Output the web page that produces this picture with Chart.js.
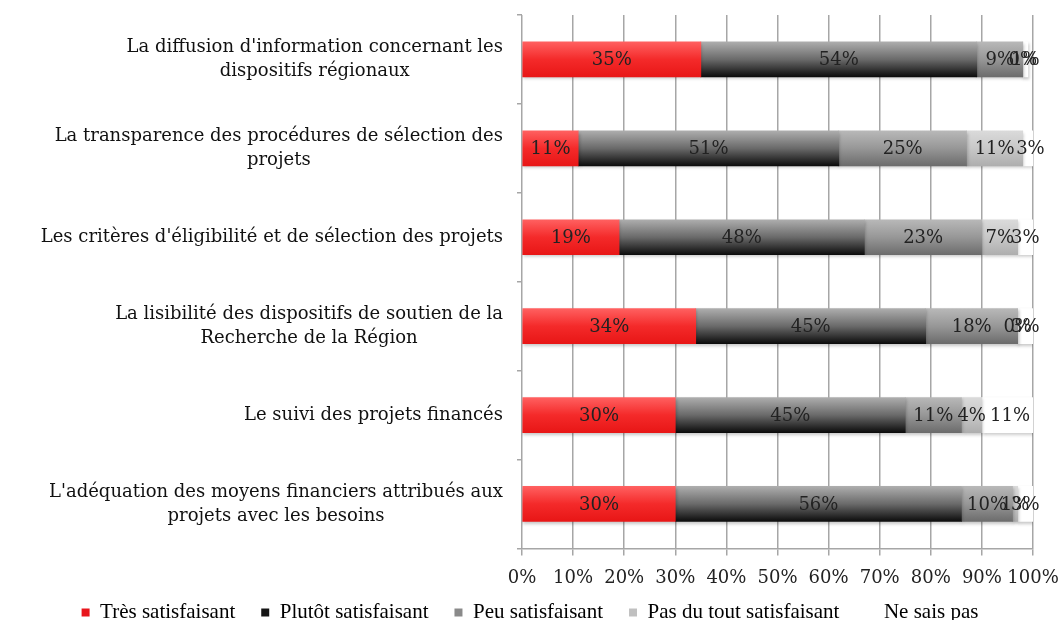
<!DOCTYPE html>
<html>
<head>
<meta charset="utf-8">
<script src="https://cdn.jsdelivr.net/npm/chart.js@4/dist/chart.umd.min.js"></script>
<style>
  html, body { margin: 0; padding: 0; background: #fff; }
  #wrap { width: 1060px; height: 624px; }
</style>
</head>
<body>
<div id="wrap"><canvas id="satisfactionChart" width="1060" height="624"></canvas></div>
<script>
const categories = [
    ["La diffusion d'information concernant les", "dispositifs régionaux"],
    ["La transparence des procédures de sélection des", "projets"],
    ["Les critères d'éligibilité et de sélection des projets"],
    ["La lisibilité des dispositifs de soutien de la", "Recherche de la Région"],
    ["Le suivi des projets financés"],
    ["L'adéquation des moyens financiers attribués aux", "projets avec les besoins"]
];
const seriesNames = ['Très satisfaisant', 'Plutôt satisfaisant', 'Peu satisfaisant', 'Pas du tout satisfaisant', 'Ne sais pas'];
const tresSatisfaisant = [35, 11, 19, 34, 30, 30];
const plutotSatisfaisant = [54, 51, 48, 45, 45, 56];
const peuSatisfaisant = [9, 25, 23, 18, 11, 10];
const pasDuToutSatisfaisant = [0, 11, 7, 0, 4, 1];
const neSaisPas = [1, 3, 3, 3, 11, 3];
const xTicks = [0, 10, 20, 30, 40, 50, 60, 70, 80, 90, 100];

const BAR_H = 35;
const SERIF = "'DejaVu Serif', Georgia, serif";

// top -> bottom colour stops of each series
const gradients = [
    ['#ff6060', '#f42a2a', '#e81616'],
    ['#adadad', '#6a6a6a', '#0c0c0c'],
    ['#b8b8b8', '#979797', '#6c6c6c'],
    ['#dadada', '#c8c8c8', '#aeaeae'],
    ['#ffffff', '#ffffff', '#ffffff']
];
const legendColors = ['#e8161c', '#151515', '#8a8a8a', '#c0c0c0', '#ffffff'];

function barFill(idx) {
    return (ctx) => {
        const chart = ctx.chart;
        const y = chart.scales.y;
        if (ctx.type !== 'data' || !y) return legendColors[idx];
        const c = y.getPixelForValue(ctx.dataIndex);
        const g = chart.ctx.createLinearGradient(0, c - BAR_H / 2, 0, c + BAR_H / 2);
        const stops = gradients[idx];
        g.addColorStop(0, stops[0]);
        g.addColorStop(0.5, stops[1]);
        g.addColorStop(1, stops[2]);
        return g;
    };
}

const allSeries = [tresSatisfaisant, plutotSatisfaisant, peuSatisfaisant, pasDuToutSatisfaisant, neSaisPas];
const datasets = allSeries.map((values, i) => ({
    label: seriesNames[i],
    data: values,
    backgroundColor: barFill(i),
    borderWidth: 0,
    barThickness: BAR_H
}));

// soft shadow under the bars
const barShadow = {
    id: 'barShadow',
    beforeDatasetsDraw(chart) {
        const ctx = chart.ctx;
        ctx.save();
        ctx.shadowColor = 'rgba(0,0,0,0.22)';
        ctx.shadowBlur = 3;
        ctx.shadowOffsetX = 1;
        ctx.shadowOffsetY = 2;
    },
    afterDatasetsDraw(chart) {
        chart.ctx.restore();
    }
};

// value labels in the middle of each segment
const valueLabels = {
    id: 'valueLabels',
    afterDatasetsDraw(chart) {
        const ctx = chart.ctx;
        ctx.save();
        ctx.font = '18px ' + SERIF;
        ctx.fillStyle = '#222';
        ctx.textAlign = 'center';
        ctx.textBaseline = 'middle';
        chart.data.datasets.forEach((ds, i) => {
            chart.getDatasetMeta(i).data.forEach((bar, j) => {
                const x = (bar.x + bar.base) / 2;
                ctx.fillText(ds.data[j] + '%', x, bar.y + 1);
            });
        });
        ctx.restore();
    }
};

// category labels: block right aligned, lines centred inside the block
const categoryLabels = {
    id: 'categoryLabels',
    afterDraw(chart) {
        const ctx = chart.ctx;
        const y = chart.scales.y;
        ctx.save();
        ctx.font = '18px ' + SERIF;
        ctx.fillStyle = '#111';
        ctx.textAlign = 'center';
        ctx.textBaseline = 'middle';
        const right = 503;
        const lineH = 24;
        categories.forEach((lines, i) => {
            const w = Math.max(...lines.map(l => ctx.measureText(l).width));
            const cx = right - w / 2;
            const cy = y.getPixelForValue(i);
            const top = cy - (lines.length - 1) * lineH / 2;
            lines.forEach((l, k) => ctx.fillText(l, cx, top + k * lineH));
        });
        ctx.restore();
    }
};

// legend sits closer to the axis labels
const tightLegend = {
    id: 'tightLegend',
    beforeInit(chart) {
        const fit = chart.legend.fit;
        chart.legend.fit = function () {
            fit.bind(chart.legend)();
            this.height -= 38;
        };
    },
    afterLayout(chart) {
        chart.legend.top -= 25;
    }
};

const ctx = document.getElementById('satisfactionChart').getContext('2d');
const myChart = new Chart(ctx, {
    type: 'bar',
    data: {
        labels: categories,
        datasets: datasets
    },
    options: {
        indexAxis: 'y',
        responsive: false,
        animation: false,
        layout: { padding: { top: 15, right: 0, left: 0, bottom: 4 } },
        scales: {
            x: {
                stacked: true,
                min: 0,
                max: 100,
                afterBuildTicks: (scale) => { scale.ticks = xTicks.map(v => ({ value: v })); },
                afterFit: (scale) => { scale.paddingRight = 27; },
                ticks: {
                    autoSkip: false,
                    callback: (v) => v + '%',
                    color: '#222',
                    font: { family: SERIF, size: 18 },
                    padding: 12,
                    maxRotation: 0
                },
                grid: { color: '#a6a6a6', lineWidth: 1.5, tickLength: 7 },
                border: { color: '#a6a6a6', width: 1.5 }
            },
            y: {
                stacked: true,
                afterFit: (scale) => { scale.width = 522; },
                ticks: { display: false },
                grid: { drawOnChartArea: false, offset: true, tickLength: 5, color: '#a6a6a6', lineWidth: 1.5 },
                border: { display: false }
            }
        },
        plugins: {
            legend: {
                position: 'bottom',
                labels: {
                    boxWidth: 8,
                    boxHeight: 8,
                    padding: 26,
                    color: '#111',
                    font: { family: "'Liberation Serif', serif", size: 21 },
                    generateLabels: (chart) => seriesNames.map((name, i) => ({
                        text: name,
                        fillStyle: legendColors[i],
                        strokeStyle: legendColors[i],
                        lineWidth: 0,
                        datasetIndex: i
                    }))
                }
            },
            tooltip: { enabled: false }
        }
    },
    plugins: [tightLegend, barShadow, valueLabels, categoryLabels]
});
</script>
</body>
</html>
